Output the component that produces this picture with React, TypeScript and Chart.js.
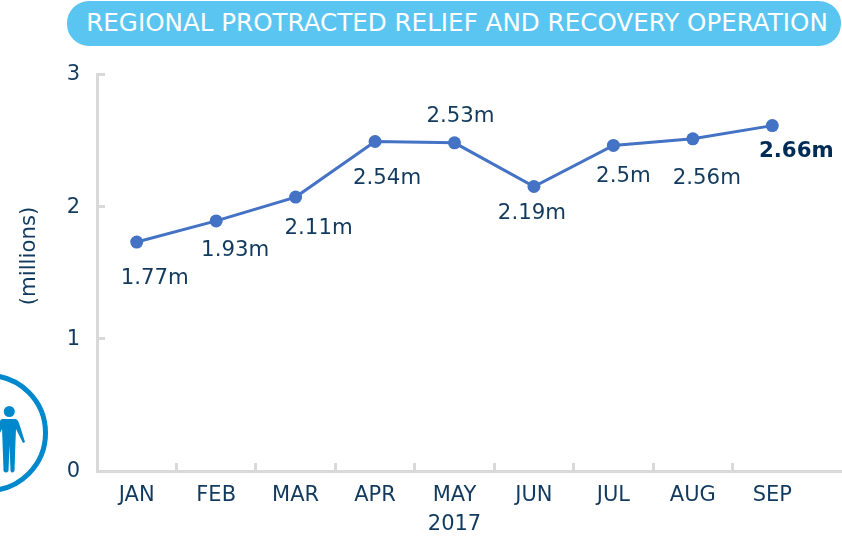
import React, { useEffect, useRef } from "react";
import { Chart, registerables } from "chart.js";

Chart.register(...registerables);

const categories = ["JAN", "FEB", "MAR", "APR", "MAY", "JUN", "JUL", "AUG", "SEP"];
const plottedValues = [1.73, 1.89, 2.07, 2.49, 2.48, 2.15, 2.46, 2.51, 2.61];
const valueLabels = ["1.77m", "1.93m", "2.11m", "2.54m", "2.53m", "2.19m", "2.5m", "2.56m", "2.66m"];
const yTicks = [0, 1, 2, 3];
const titleText = "REGIONAL PROTRACTED RELIEF AND RECOVERY OPERATION";
const yearLabel = "2017";
const yAxisLabel = "(millions)";

// label placement relative to each point, in pixels
const labelShiftX = [18, 19, 23, 12, 6, -2, 10, 14, 24];
const labelShiftY = [36, 30, 31, 37, -26, 27, 31, 40, 26];

const FONT = "'DejaVu Sans', sans-serif";
const NAVY = "#123A5E";
const AXIS = "#D9D9D9";

const overlayPlugin = {
  id: "overlay",
  beforeDatasetsDraw(chart: any) {
    const { ctx, chartArea } = chart;
    ctx.save();
    ctx.strokeStyle = AXIS;
    ctx.lineWidth = 3;
    ctx.beginPath();
    ctx.moveTo(chartArea.right, chartArea.bottom + 0.5);
    ctx.lineTo(chart.width, chartArea.bottom + 0.5);
    ctx.stroke();
    ctx.fillStyle = NAVY;
    ctx.font = `21.3px ${FONT}`;
    ctx.textAlign = "center";
    ctx.textBaseline = "middle";
    ctx.translate(29, 256);
    ctx.rotate(-Math.PI / 2);
    ctx.fillText(yAxisLabel, 0, 0);
    ctx.restore();
  },
  afterDatasetsDraw(chart: any) {
    const { ctx } = chart;
    const points = chart.getDatasetMeta(0).data;
    ctx.save();
    ctx.textAlign = "center";
    ctx.textBaseline = "middle";
    points.forEach((pt: any, i: number) => {
      const last = i === points.length - 1;
      ctx.font = `${last ? "bold " : ""}21.3px ${FONT}`;
      ctx.fillStyle = last ? "#002B55" : NAVY;
      ctx.fillText(valueLabels[i], pt.x + labelShiftX[i], pt.y + labelShiftY[i]);
    });
    ctx.restore();
  },
};

export default function App() {
  const ref = useRef<HTMLCanvasElement>(null);
  useEffect(() => {
    const chart = new Chart(ref.current!, {
      type: "line",
      data: {
        labels: categories,
        datasets: [
          {
            data: plottedValues,
            borderColor: "#4472C4",
            backgroundColor: "#4472C4",
            borderWidth: 3,
            pointRadius: 6.5,
            pointBackgroundColor: "#4472C4",
            pointBorderWidth: 0,
            tension: 0,
            fill: false,
          },
        ],
      },
      options: {
        responsive: false,
        animation: false,
        layout: { padding: { top: 74, right: 30, left: 0, bottom: 0 } },
        plugins: { legend: { display: false }, tooltip: { enabled: false } },
        scales: {
          x: {
            type: "category",
            offset: true,
            afterFit: (s: any) => { s.height = 69; },
            grid: {
              offset: true,
              drawOnChartArea: false,
              tickLength: -8,
              tickWidth: 3,
              tickColor: (c: any) => (c.index === undefined ? "transparent" : AXIS),
            },
            border: { display: true, color: AXIS, width: 3 },
            ticks: { color: NAVY, font: { family: FONT, size: 21 }, padding: 20, autoSkip: false, maxRotation: 0 },
            title: { display: true, text: yearLabel, color: NAVY, font: { family: FONT, size: 21 }, padding: { top: 0, bottom: 3 } },
          },
          y: {
            min: 0,
            max: 3,
            afterFit: (s: any) => { s.width = 97; },
            afterBuildTicks: (s: any) => { s.ticks = yTicks.map((value) => ({ value })); },
            grid: { drawOnChartArea: false, tickLength: -8, tickWidth: 3, tickColor: AXIS },
            border: { display: true, color: AXIS, width: 3 },
            ticks: { color: NAVY, font: { family: FONT, size: 21 }, padding: 25, labelOffset: 1 },
          },
        },
      },
      plugins: [overlayPlugin],
    } as any);
    return () => chart.destroy();
  }, []);

  return (
    <div style={{ position: "fixed", left: 0, top: 0, width: 842, height: 540, overflow: "hidden", background: "#fff" }}>
      <canvas ref={ref} width={842} height={540} style={{ display: "block" }} />
      <div
        style={{
          position: "absolute", left: 67, top: 1, width: 774, height: 45, borderRadius: 22, boxSizing: "border-box", paddingLeft: 6,
          background: "#5BC5F2", color: "#fff", fontFamily: FONT, fontSize: 24.6,
          lineHeight: "43px", textAlign: "center", whiteSpace: "nowrap",
        }}
      >
        {titleText}
      </div>
      <svg width={60} height={140} style={{ position: "absolute", left: 0, top: 365 }}>
        <circle cx={-12} cy={68} r={57.5} fill="none" stroke="#0088CC" strokeWidth={5} />
        <circle cx={9.3} cy={46.5} r={5.5} fill="#0088CC" />
        <path
          fill="#0088CC"
          d="M2 54 L16 54 Q18 55 19 58 L25 77 L23 78 L16 64 L15.5 76 L14.5 106 Q12 109 10.5 106 L9.5 80 L8.5 106 Q6 109 3.5 106 L2.5 76 L2 64 L-5 78 L-7 77 L-1 58 Q0 55 2 54 Z"
        />
      </svg>
    </div>
  );
}
